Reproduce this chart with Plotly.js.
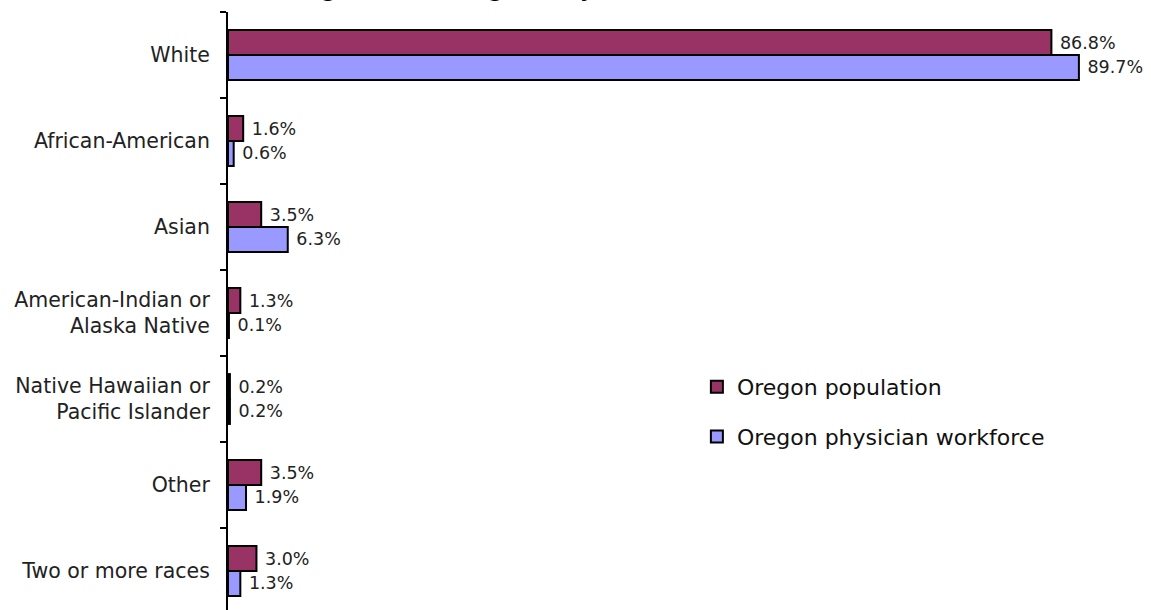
<!DOCTYPE html>
<html>
<head>
<meta charset="utf-8">
<script src="https://cdn.plot.ly/plotly-3.0.1.min.js"></script>
<style>html,body{margin:0;padding:0;background:#fff;overflow:hidden}</style>
</head>
<body>
<div id="chart" style="width:1151px;height:616px"></div>
<script>
const categories = ["White", "African-American", "Asian", "American-Indian or<br>Alaska Native", "Native Hawaiian or<br>Pacific Islander", "Other", "Two or more races"];
const populationValues = [86.8, 1.6, 3.5, 1.3, 0.2, 3.5, 3.0];
const workforceValues = [89.7, 0.6, 6.3, 0.1, 0.2, 1.9, 1.3];
const seriesNames = ["Oregon population", "Oregon physician workforce"];
const titleText = "Race: Oregon and Oregon Physicians";

const fmt = v => "\u00A0" + v.toFixed(1) + "%";
const font = "DejaVu Sans, sans-serif";

const traces = [
  {type: "bar", orientation: "h", name: seriesNames[0], y: categories, x: populationValues,
   text: populationValues.map(fmt), textposition: "outside", cliponaxis: false,
   textfont: {family: font, size: 17.5, color: "#222"},
   marker: {color: "#993366", line: {color: "#000", width: 2}},
   legendgroup: "a", hoverinfo: "none"},
  {type: "bar", orientation: "h", name: seriesNames[1], y: categories, x: workforceValues,
   text: workforceValues.map(fmt), textposition: "outside", cliponaxis: false,
   textfont: {family: font, size: 17.5, color: "#222"},
   marker: {color: "#9999FF", line: {color: "#000", width: 2}},
   legendgroup: "b", hoverinfo: "none"}
];

const layout = {
  width: 1151, height: 616,
  margin: {l: 228, r: 0, t: 12, b: 2},
  paper_bgcolor: "#fff", plot_bgcolor: "#fff",
  barmode: "group", bargap: 0.42, bargroupgap: 0,
  font: {family: font, color: "#222"},
  xaxis: {range: [0, 97.3], visible: false, fixedrange: true},
  yaxis: {autorange: "reversed", showline: true, linecolor: "#000", linewidth: 2,
          ticks: "outside", ticklen: 6, tickcolor: "#000", tickwidth: 2,
          tickson: "boundaries", showgrid: false, zeroline: false,
          ticklabelstandoff: 12,
          tickfont: {family: font, size: 20.5, color: "#222"}},
  showlegend: true,
  legend: {x: 0.508, y: 0.412, xanchor: "left", yanchor: "top", traceorder: "grouped",
           tracegroupgap: 18, font: {family: font, size: 22, color: "#111"},
           bgcolor: "rgba(0,0,0,0)"},
  annotations: [{text: titleText, xref: "paper", yref: "paper", x: -0.045, y: 1.0155,
                 xanchor: "left", yanchor: "bottom", showarrow: false,
                 font: {family: font, size: 27, color: "#000"}}]
};

Plotly.newPlot("chart", traces, layout, {displayModeBar: false, staticPlot: true});
</script>
</body>
</html>
